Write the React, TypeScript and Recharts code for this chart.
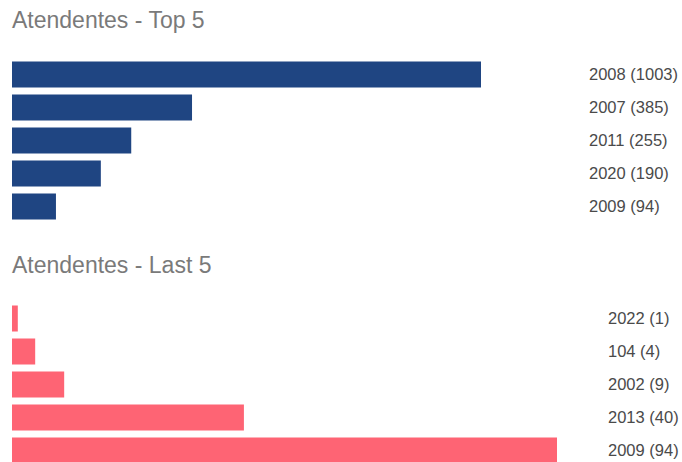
import { BarChart, Bar, XAxis, YAxis } from "recharts";

const topYears = ["2008", "2007", "2011", "2020", "2009"];
const topValues = [1003, 385, 255, 190, 94];

const lastYears = ["2022", "104", "2002", "2013", "2009"];
const lastValues = [1, 4, 9, 40, 94];

const buildRows = (years: string[], values: number[]) =>
  years.map((year, i) => ({
    label: `${year} (${values[i]})`,
    value: values[i],
  }));

const topData = buildRows(topYears, topValues);
const lastData = buildRows(lastYears, lastValues);

const FONT = '"Liberation Sans", Arial, sans-serif';

const titleStyle: React.CSSProperties = {
  position: "absolute",
  left: 12,
  fontFamily: FONT,
  fontSize: 23,
  lineHeight: "23px",
  color: "#7a7a7a",
  whiteSpace: "nowrap",
};

type PanelProps = {
  data: { label: string; value: number }[];
  color: string;
  top: number;
  marginTop: number;
  axisWidth: number;
  labelGap: number;
};

const Panel = ({ data, color, top, marginTop, axisWidth, labelGap }: PanelProps) => (
  <div style={{ position: "absolute", left: 0, top }}>
    <BarChart
      width={682}
      height={240}
      data={data}
      layout="vertical"
      margin={{ top: marginTop, right: 0, bottom: 240 - marginTop - 165, left: 12 }}
    >
      <XAxis type="number" domain={[0, "dataMax"]} hide />
      <YAxis
        type="category"
        dataKey="label"
        orientation="right"
        width={axisWidth}
        axisLine={false}
        tickLine={false}
        tickSize={0}
        tickMargin={labelGap}
        interval={0}
        tick={{ fill: "#4a4a4a", fontSize: 16.5, fontFamily: FONT, textAnchor: "start" }}
      />
      <Bar dataKey="value" fill={color} barSize={26} isAnimationActive={false} />
    </BarChart>
  </div>
);

export default function App() {
  return (
    <div
      style={{
        position: "absolute",
        left: 0,
        top: 0,
        width: 682,
        height: 462,
        overflow: "hidden",
        background: "#ffffff",
      }}
    >
      <div style={{ ...titleStyle, top: 9 }}>Atendentes - Top 5</div>
      <Panel data={topData} color="#1f4582" top={0} marginTop={57.5} axisWidth={201} labelGap={108} />
      <div style={{ ...titleStyle, top: 254 }}>Atendentes - Last 5</div>
      <Panel data={lastData} color="#fe6474" top={240} marginTop={61.5} axisWidth={125} labelGap={51} />
    </div>
  );
}
